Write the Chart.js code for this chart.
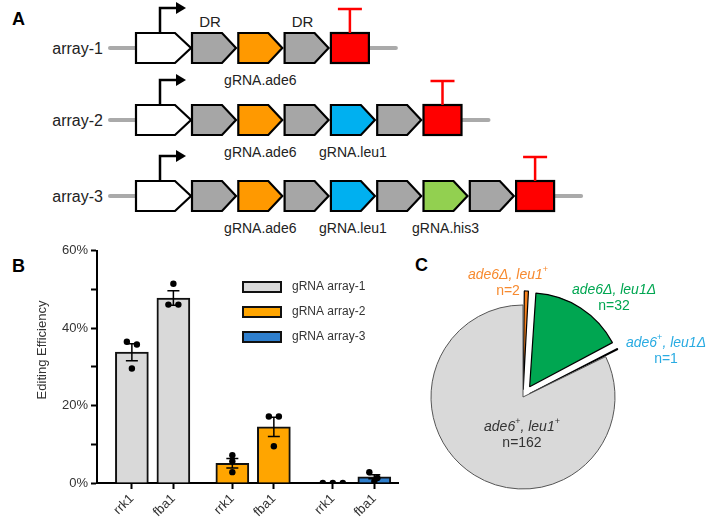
<!DOCTYPE html>
<html>
<head>
<meta charset="utf-8">
<script src="https://cdn.jsdelivr.net/npm/chart.js@4.4.1/dist/chart.umd.min.js"></script>
<style>
  html, body { margin: 0; padding: 0; background: #fff; }
  #page { position: relative; width: 709px; height: 522px; overflow: hidden; }
  #schema { position: absolute; left: 0; top: 0; }
  #barChart { position: absolute; left: 0; top: 240px; }
  #pieChart { position: absolute; left: 400px; top: 262px; }
</style>
</head>
<body>
<div id="page">
  <svg id="schema" width="709" height="522" font-family="Liberation Sans, Arial, sans-serif"></svg>
  <canvas id="barChart" width="420" height="282"></canvas>
  <canvas id="pieChart" width="309" height="260"></canvas>
</div>
<script>
// ---- data ----
const CONSTRUCTS = ['array-1', 'array-2', 'array-3'];
const GUIDES = [['ade6'], ['ade6', 'leu1'], ['ade6', 'leu1', 'his3']];

const GENES = ['rrk1', 'fba1'];
const ARRAY_LABELS = ['gRNA array-1', 'gRNA array-2', 'gRNA array-3'];
const MEAN_ARRAY1 = [33.8, 47.8];
const MEAN_ARRAY2 = [5.1, 14.5];
const MEAN_ARRAY3 = [0, 1.6];
const SEM_ARRAY1 = [2.2, 1.9];
const SEM_ARRAY2 = [1.2, 2.5];
const SEM_ARRAY3 = [0, 0.5];
const REPS_ARRAY1 = [[36.5, 35.8, 29.6], [46.1, 46.1, 51.5]];
const REPS_ARRAY2 = [[7.2, 5.6, 2.8], [17.2, 17.2, 9.5]];
const REPS_ARRAY3 = [[0, 0, 0], [2.8, 1.3, 0.4]];
const Y_TICKS = [0, 20, 40, 60];

const GENOTYPES = ['ade6Δ, leu1+', 'ade6Δ, leu1Δ', 'ade6+, leu1Δ', 'ade6+, leu1+'];
const COUNTS = [2, 32, 1, 162];

// ---- styles ----
const FONT = '"Liberation Sans", Arial, sans-serif';
Chart.defaults.font.family = FONT;
Chart.defaults.color = '#333';

const MEANS = [MEAN_ARRAY1, MEAN_ARRAY2, MEAN_ARRAY3];
const SEMS = [SEM_ARRAY1, SEM_ARRAY2, SEM_ARRAY3];
const REPS = [REPS_ARRAY1, REPS_ARRAY2, REPS_ARRAY3];
const BAR_COLORS = ['#d9d9d9', '#ffa500', '#2f7fcd'];
const JITTER_PX = [[[-5, 5, 0], [-5, 5, 0]], [[0, 0, 0], [-5, 5, 0]], [[-10, 0, 10], [-5, 3, 0]]];
const UNIT_PX = 41.5;
const GROUP_STEP = 2.42;
const pos = (g, i) => g * GROUP_STEP + i;

// ---- panel A: construct schematic ----
const svg = document.getElementById('schema');
const NS = 'http://www.w3.org/2000/svg';
function el(tag, attrs, text) {
  const e = document.createElementNS(NS, tag);
  for (const k in attrs) e.setAttribute(k, attrs[k]);
  if (text != null) e.textContent = text;
  svg.appendChild(e);
  return e;
}
function pentagon(x, y, w, h, tip) {
  return `${x},${y} ${x + w - tip},${y} ${x + w},${y + h / 2} ${x + w - tip},${y + h} ${x},${y + h}`;
}

const ROW_Y = [48, 120, 196];
const PART_COLORS = { DR: '#a6a6a6', ade6: '#ff9900', leu1: '#00b0f0', his3: '#92d050' };
const PITCH = 46.3;

CONSTRUCTS.forEach((name, r) => {
  const cy = ROW_Y[r], top = cy - 15, bot = cy + 15;
  const parts = ['DR'];
  GUIDES[r].forEach(g => parts.push(g, 'DR'));
  const termX = 192 + parts.length * PITCH;

  el('line', { x1: 110, y1: cy, x2: 136, y2: cy, stroke: '#aaa', 'stroke-width': 4, 'stroke-linecap': 'round' });
  el('line', { x1: termX + 38, y1: cy, x2: termX + 65, y2: cy, stroke: '#aaa', 'stroke-width': 4, 'stroke-linecap': 'round' });
  el('text', { x: 103, y: cy + 5.5, 'text-anchor': 'end', 'font-size': 16, fill: '#222' }, name);

  // promoter
  el('polygon', { points: pentagon(136, top, 55, 30, 16), fill: '#fff', stroke: '#000', 'stroke-width': 2.2 });
  el('polyline', { points: `160,${top} 160,${top - 25} 178,${top - 25}`, fill: 'none', stroke: '#000', 'stroke-width': 2.5 });
  el('polygon', { points: `176,${top - 31} 186,${top - 25} 176,${top - 19}`, fill: '#000' });

  parts.forEach((p, k) => {
    const x = 192 + k * PITCH;
    el('polygon', { points: pentagon(x, top, 44, 30, 14), fill: PART_COLORS[p], stroke: '#000', 'stroke-width': 2.2 });
    if (p === 'DR') {
      if (r === 0) el('text', { x: x + 18, y: top - 6, 'text-anchor': 'middle', 'font-size': 15, fill: '#222' }, 'DR');
    } else {
      el('text', { x: x + 22, y: bot + 22, 'text-anchor': 'middle', 'font-size': 14, fill: '#222' }, 'gRNA.' + p);
    }
  });

  // terminator
  el('rect', { x: termX, y: top, width: 38, height: 30, fill: '#ff0000', stroke: '#000', 'stroke-width': 2.2 });
  el('path', { d: `M${termX + 19},${top} V${top - 24} M${termX + 7},${top - 24} H${termX + 31}`, stroke: '#ff0000', 'stroke-width': 2.5, fill: 'none' });
});

[['A', 12, 25], ['B', 12, 272], ['C', 415, 271]].forEach(([t, x, y]) => {
  el('text', { x, y, 'font-size': 18, 'font-weight': 'bold', fill: '#000' }, t);
});

// ---- panel B: editing efficiency ----
const barDatasets = MEANS.map((m, g) => ({
  type: 'bar',
  label: ARRAY_LABELS[g],
  data: m.map((v, i) => ({ x: pos(g, i), y: v })),
  backgroundColor: BAR_COLORS[g],
  borderColor: '#111',
  borderWidth: 2,
  barThickness: 33,
  grouped: false,
  order: 2
}));

const dotData = [];
REPS.forEach((grp, g) => grp.forEach((reps, i) => reps.forEach((v, k) => {
  dotData.push({ x: pos(g, i) + JITTER_PX[g][i][k] / UNIT_PX, y: v });
})));

const tickPositions = [];
MEANS.forEach((m, g) => m.forEach((v, i) => tickPositions.push(pos(g, i))));

const errorBars = {
  id: 'errorBars',
  afterDatasetsDraw(chart) {
    const { ctx, scales: { x, y } } = chart;
    ctx.save();
    ctx.strokeStyle = '#000';
    ctx.lineWidth = 1.5;
    MEANS.forEach((m, g) => m.forEach((v, i) => {
      const s = SEMS[g][i];
      if (!s) return;
      const px = x.getPixelForValue(pos(g, i));
      const top = y.getPixelForValue(v + s), bot = y.getPixelForValue(Math.max(v - s, 0));
      ctx.beginPath();
      ctx.moveTo(px, top); ctx.lineTo(px, bot);
      ctx.moveTo(px - 6, top); ctx.lineTo(px + 6, top);
      ctx.moveTo(px - 6, bot); ctx.lineTo(px + 6, bot);
      ctx.stroke();
    }));
    ctx.restore();
  }
};

const barLegend = {
  id: 'barLegend',
  afterDraw(chart) {
    const { ctx, chartArea } = chart;
    ctx.save();
    ctx.font = '12px ' + FONT;
    ctx.textBaseline = 'middle';
    ctx.textAlign = 'left';
    chart.data.datasets.filter(d => d.type === 'bar').forEach((d, i) => {
      const bx = chartArea.left + 146, by = 42 + i * 25;
      ctx.fillStyle = d.backgroundColor;
      ctx.fillRect(bx, by, 38, 10);
      ctx.strokeStyle = '#111';
      ctx.lineWidth = 2;
      ctx.strokeRect(bx, by, 38, 10);
      ctx.fillStyle = '#333';
      ctx.fillText(d.label, bx + 49, by + 5);
    });
    // y axis title
    ctx.translate(42, 110);
    ctx.rotate(-Math.PI / 2);
    ctx.textAlign = 'center';
    ctx.font = '13px ' + FONT;
    ctx.fillText('Editing Efficiency', 0, 0);
    ctx.restore();
  }
};

new Chart(document.getElementById('barChart'), {
  type: 'bar',
  data: {
    datasets: [
      ...barDatasets,
      { type: 'scatter', data: dotData, pointRadius: 3.2, backgroundColor: '#000', borderWidth: 0, order: 1 }
    ]
  },
  options: {
    responsive: false,
    animation: false,
    layout: { padding: { left: 0, right: 21.6, top: 10, bottom: 0 } },
    plugins: { legend: { display: false }, tooltip: { enabled: false } },
    scales: {
      x: {
        type: 'linear',
        min: -0.84,
        max: 6.42,
        offset: false,
        afterBuildTicks: s => { s.ticks = tickPositions.map(v => ({ value: v })); },
        afterFit: s => { s.height = 39; },
        ticks: {
          callback: (v, i) => GENES[i % 2],
          autoSkip: false,
          minRotation: 45,
          maxRotation: 45,
          padding: 2,
          color: '#333',
          font: { size: 13 }
        },
        grid: { offset: false, drawOnChartArea: false, drawTicks: true, tickLength: 6, tickColor: '#000', tickWidth: 2 },
        border: { color: '#000', width: 2 }
      },
      y: {
        min: 0,
        max: 60,
        afterFit: s => { s.width = 97; },
        ticks: {
          stepSize: 10,
          callback: v => Y_TICKS.includes(v) ? v + '%' : '',
          padding: 3,
          color: '#333',
          font: { size: 13 }
        },
        grid: { drawOnChartArea: false, drawTicks: true, tickLength: 6, tickColor: '#000', tickWidth: 2 },
        border: { color: '#000', width: 2 }
      }
    }
  },
  plugins: [errorBars, barLegend]
});

// ---- panel C: genotype pie ----
const PIE_COLORS = ['#f7821e', '#00a651', '#1e9be0', '#d9d9d9'];
const TEXT_COLORS = ['#f78a2f', '#00a651', '#29abe2', '#333'];
const LABEL_OFFSETS = [[-15, -122], [91, -107], [143, -54], [-1, 30]];
// Chart.js moves an arc by offset/4 * (2 - sin(angle)); these give ~14px for each slice
const SLICE_OFFSETS = [29, 49, 28.5, 0];

function drawGenotype(ctx, label, cx, cy, color) {
  const runs = [];
  let buf = '';
  for (const ch of label) {
    if (ch === '+') {
      if (buf) runs.push({ t: buf, sup: false });
      runs.push({ t: '+', sup: true });
      buf = '';
    } else buf += ch;
  }
  if (buf) runs.push({ t: buf, sup: false });
  const fontFor = r => r.sup ? '9px ' + FONT : 'italic 14px ' + FONT;
  let total = 0;
  runs.forEach(r => { ctx.font = fontFor(r); r.w = ctx.measureText(r.t).width; total += r.w; });
  let x = cx - total / 2;
  ctx.fillStyle = color;
  ctx.textAlign = 'left';
  ctx.textBaseline = 'middle';
  runs.forEach(r => {
    ctx.font = fontFor(r);
    ctx.fillText(r.t, x, r.sup ? cy - 5 : cy);
    x += r.w;
  });
}

const pieLabels = {
  id: 'pieLabels',
  afterDatasetsDraw(chart) {
    const ctx = chart.ctx;
    const arcs = chart.getDatasetMeta(0).data;
    const ds = chart.data.datasets[0];
    ctx.save();
    arcs.forEach((arc, i) => {
      const cx = arc.x + LABEL_OFFSETS[i][0], cy = arc.y + LABEL_OFFSETS[i][1];
      drawGenotype(ctx, chart.data.labels[i], cx, cy, TEXT_COLORS[i]);
      ctx.font = '14px ' + FONT;
      ctx.textAlign = 'center';
      ctx.fillText('n=' + ds.data[i], cx, cy + 16);
    });
    ctx.restore();
  }
};

new Chart(document.getElementById('pieChart'), {
  type: 'pie',
  data: {
    labels: GENOTYPES,
    datasets: [{
      data: COUNTS,
      backgroundColor: PIE_COLORS,
      borderColor: ['#000', '#000', '#000', '#555'],
      borderWidth: [1.2, 1.2, 1.2, 1],
      offset: SLICE_OFFSETS,
      radius: 92
    }]
  },
  options: {
    responsive: false,
    animation: false,
    layout: { padding: { left: 0, right: 63, top: 10, bottom: 0 } },
    plugins: { legend: { display: false }, tooltip: { enabled: false } }
  },
  plugins: [pieLabels]
});
</script>
</body>
</html>
